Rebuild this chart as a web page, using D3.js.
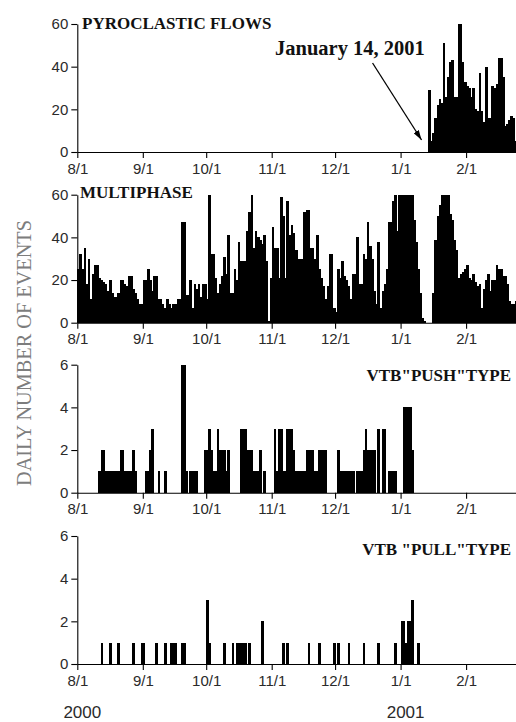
<!DOCTYPE html>
<html>
<head>
<meta charset="utf-8">
<script src="https://cdn.jsdelivr.net/npm/d3@7"></script>
<style>
  body { margin: 0; background: #fff; }
  svg { display: block; }
</style>
</head>
<body>
<svg id="chart" width="516" height="722"></svg>
<script>
// Daily event counts, 1 Aug 2000 – 24 Feb 2001
const seriesStart = "2000-08-01";
const seriesEnd = "2001-02-25";

// Pyroclastic flows only begin on 14 Jan 2001
const pyroclasticStart = "2001-01-14";
const pyroclastic = [29,5,9,16,22,25,23,51,26,35,42,43,26,26,60,60,42,33,
  31,30,26,30,20,19,37,19,14,40,16,16,31,30,32,44,44,35,12,13,15,17,16,5];

const multiphase = [
  // Aug
  25,32,25,35,18,30,11,23,27,27,21,20,19,18,15,20,14,12,12,14,20,20,18,17,22,22,16,14,11,9,9,
  // Sep
  20,20,25,20,15,22,22,11,11,9,7,11,9,7,9,9,11,11,47,47,13,13,20,7,18,16,18,12,18,18,
  // Oct
  11,60,32,32,21,14,18,22,31,23,41,14,14,25,20,38,29,29,29,43,52,60,35,43,40,39,37,41,29,1,21,
  // Nov
  45,35,35,21,59,50,21,57,41,46,42,34,30,30,30,52,53,53,35,35,30,41,25,21,17,11,17,32,32,7,
  // Dec
  5,25,21,29,22,20,17,11,23,23,40,18,18,32,30,47,36,30,15,9,38,7,15,18,25,47,47,57,60,43,60,
  // Jan
  60,60,60,60,60,60,48,38,25,14,2,1,0,0,0,14,39,50,55,60,60,60,60,51,48,39,34,21,23,24,25,
  // Feb
  27,21,20,23,19,17,18,7,16,20,23,15,20,20,27,25,25,22,22,18,10,9,9,10
];

const vtbPush = [
  // Aug
  0,0,0,0,0,0,0,0,0,0,1,2,2,1,1,1,1,1,1,1,2,2,1,1,1,1,2,1,0,0,0,
  // Sep
  0,1,1,2,3,0,0,1,0,0,1,0,0,0,0,0,0,0,6,6,1,0,1,1,1,1,0,0,0,2,
  // Oct
  2,3,2,1,1,3,2,2,2,1,2,0,0,0,0,0,3,3,3,2,2,2,1,1,1,2,0,1,0,0,0,
  // Nov
  0,3,1,3,3,1,1,3,3,3,2,1,1,1,1,1,2,2,2,2,1,1,2,2,2,2,0,0,0,0,
  // Dec
  0,2,1,1,1,1,1,1,1,0,1,1,1,2,3,2,2,2,2,0,3,0,3,3,0,1,1,1,1,0,0,
  // Jan
  0,4,4,4,4,2,0,0,0,0,0,0,0,0,0,0,0,0,0,0,0,0,0,0,0,0,0,0,0,0,0,
  // Feb
  0,0,0,0,0,0,0,0,0,0,0,0,0,0,0,0,0,0,0,0,0,0,0,0
];

const vtbPull = [
  // Aug
  0,0,0,0,0,0,0,0,0,0,0,1,0,0,0,1,0,0,0,1,0,0,0,0,0,0,1,0,0,0,1,
  // Sep
  1,0,0,0,0,0,1,0,0,0,1,0,0,1,1,1,0,0,1,1,0,0,0,0,0,0,0,0,0,0,
  // Oct
  3,1,0,0,0,0,0,0,1,0,0,0,1,0,1,1,1,1,1,0,1,0,0,0,0,0,2,0,0,0,0,
  // Nov
  0,0,0,0,0,1,0,1,0,0,0,0,0,0,0,0,0,1,0,0,0,0,1,0,0,0,0,0,0,1,
  // Dec
  0,1,0,0,0,0,1,0,0,0,0,0,0,1,0,0,0,0,0,0,1,0,0,0,0,0,0,0,1,0,0,
  // Jan
  2,2,1,2,2,3,0,0,1,0,0,0,0,0,0,0,0,0,0,0,0,0,0,0,0,0,0,0,0,0,0,
  // Feb
  0,0,0,0,0,0,0,0,0,0,0,0,0,0,0,0,0,0,0,0,0,0,0,0
];

const monthTicks = ["2000-08-01","2000-09-01","2000-10-01","2000-11-01","2000-12-01","2001-01-01","2001-02-01"];
const yTicksLarge = [0, 20, 40, 60];
const yTicksSmall = [0, 2, 4, 6];
const panelTitles = ["PYROCLASTIC FLOWS", "MULTIPHASE", "VTB\"PUSH\"TYPE", "VTB \"PULL\"TYPE"];
const yearLabels = [["2000", "2000-08-01"], ["2001", "2001-01-01"]];
const annotation = ["January 14, 2001", "2001-01-14"];
const yAxisTitle = "DAILY NUMBER OF EVENTS";

const svg = d3.select("#chart");
const parse = d3.utcParse("%Y-%m-%d");
const t0 = parse(seriesStart), t1 = parse(seriesEnd);
const x = d3.scaleUtc().domain([t0, t1]).range([77.3, 516.8]);
const day = i => d3.utcDay.offset(t0, i);

// spread the pyroclastic counts onto the full daily timeline
const pyroOffset = d3.utcDay.count(t0, parse(pyroclasticStart));
const pyroFull = multiphase.map((_, i) => {
  const k = i - pyroOffset;
  return k >= 0 && k < pyroclastic.length ? pyroclastic[k] : 0;
});

const panelH = 128;
const panels = [
  { values: pyroFull,   max: 60, ticks: yTicksLarge, base: 152,   title: panelTitles[0], tx: 82,  ty: 29,  anchor: "start" },
  { values: multiphase, max: 60, ticks: yTicksLarge, base: 322.7, title: panelTitles[1], tx: 80,  ty: 198, anchor: "start" },
  { values: vtbPush,    max: 6,  ticks: yTicksSmall, base: 492.7, title: panelTitles[2], tx: 511, ty: 381, anchor: "end" },
  { values: vtbPull,    max: 6,  ticks: yTicksSmall, base: 664,   title: panelTitles[3], tx: 511, ty: 555, anchor: "end" }
];

const scales = [];
panels.forEach(p => {
  const y = d3.scaleLinear().domain([0, p.max]).range([p.base, p.base - panelH]);
  scales.push(y);
  const g = svg.append("g");

  // bars overlap slightly so neighbouring days read as one solid block
  g.append("g")
    .attr("shape-rendering", "crispEdges")
    .selectAll("rect")
    .data(p.values.map((v, i) => ({ v, d0: day(i), d1: day(i + 1) })).filter(d => d.v > 0))
    .join("rect")
    .attr("x", d => x(d.d0))
    .attr("width", d => x(d.d1) - x(d.d0) + 0.5)
    .attr("y", d => y(d.v))
    .attr("height", d => y(0) - y(d.v))
    .attr("fill", "#000");

  const xAxis = d3.axisBottom(x)
    .tickValues(monthTicks.map(parse))
    .tickFormat(d3.utcFormat("%-m/%-d"))
    .tickSize(6).tickPadding(5).tickSizeOuter(0);
  const yAxis = d3.axisLeft(y)
    .tickValues(p.ticks)
    .tickFormat(d3.format("d"))
    .tickSize(6).tickPadding(3).tickSizeOuter(0);

  [g.append("g").attr("transform", `translate(0,${p.base})`).call(xAxis),
   g.append("g").attr("transform", `translate(${x(t0)},0)`).call(yAxis)]
    .forEach(a => {
      a.attr("font-family", "'Liberation Sans', Arial, sans-serif").attr("font-size", 15);
      a.selectAll("path, line").attr("stroke", "#000").attr("stroke-width", 1.1);
      a.selectAll("text").attr("fill", "#2a2a2a");
    });

  g.append("text")
    .attr("x", p.tx).attr("y", p.ty)
    .attr("text-anchor", p.anchor)
    .attr("font-family", "'Liberation Serif', 'Times New Roman', serif")
    .attr("font-weight", "bold")
    .attr("font-size", 17)
    .attr("fill", "#111")
    .text(p.title);
});

// vertical axis title
svg.append("text")
  .attr("transform", "translate(24,353) rotate(-90)")
  .attr("text-anchor", "middle")
  .attr("dy", "0.35em")
  .attr("font-family", "'Liberation Serif', 'Times New Roman', serif")
  .attr("font-size", 20.3)
  .attr("fill", "#7d7d7d")
  .text(yAxisTitle);

// year labels under the last panel
svg.selectAll("text.year")
  .data(yearLabels)
  .join("text")
  .attr("class", "year")
  .attr("x", d => x(parse(d[1])) + 5)
  .attr("y", 718)
  .attr("text-anchor", "middle")
  .attr("font-family", "'Liberation Sans', Arial, sans-serif")
  .attr("font-size", 17)
  .attr("fill", "#2a2a2a")
  .text(d => d[0]);

// onset annotation with arrow
svg.append("defs").append("marker")
  .attr("id", "arrowhead")
  .attr("viewBox", "0 0 10 6")
  .attr("refX", 10).attr("refY", 3)
  .attr("markerWidth", 10).attr("markerHeight", 6)
  .attr("markerUnits", "userSpaceOnUse")
  .attr("orient", "auto")
  .append("path").attr("d", "M0,0 L10,3 L0,6 Z").attr("fill", "#000");

const tipX = x(parse(annotation[1])) - 6.5;
const tipY = scales[0](0) - 12;
svg.append("line")
  .attr("x1", tipX - 49).attr("y1", tipY - 77)
  .attr("x2", tipX).attr("y2", tipY)
  .attr("stroke", "#000").attr("stroke-width", 1.3)
  .attr("marker-end", "url(#arrowhead)");

svg.append("text")
  .attr("x", 275).attr("y", 55)
  .attr("font-family", "'Liberation Serif', 'Times New Roman', serif")
  .attr("font-weight", "bold")
  .attr("font-size", 20.5)
  .attr("fill", "#111")
  .text(annotation[0]);
</script>
</body>
</html>
